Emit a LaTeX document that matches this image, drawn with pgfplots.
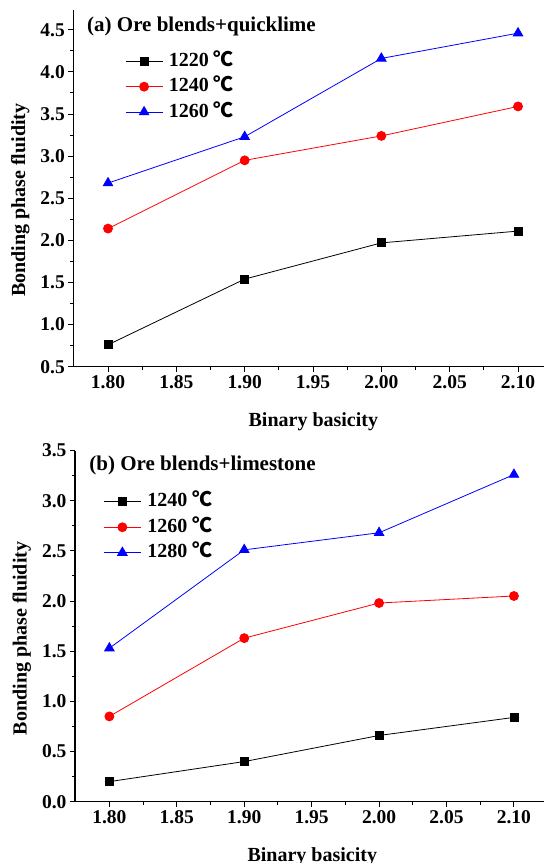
\documentclass[border=0pt]{standalone}
\usepackage{fontspec}
\setmainfont{Liberation Serif}
\newfontfamily\cjk{Noto Sans CJK SC}
\usepackage{pgfplots}
\pgfplotsset{compat=1.18}

\newcommand{\degC}{{\cjk\bfseries ℃}}

\pgfplotsset{
  panel/.style={
    scale only axis,
    axis lines=left, axis line style={-, line width=1.2pt},
    tick align=outside, major tick length=5pt, minor tick length=3pt,
    every tick/.style={black, line width=1pt},
    xtick={1.8,1.85,1.9,1.95,2.0,2.05,2.1},
    minor x tick num=1, minor y tick num=1,
    /pgf/number format/assume math mode=true,
    ticklabel style={font=\fontsize{19.5}{22}\selectfont\bfseries},
    xticklabel style={/pgf/number format/.cd, fixed, fixed zerofill, precision=2},
    yticklabel style={/pgf/number format/.cd, fixed, fixed zerofill, precision=1},
    label style={font=\fontsize{20}{24}\selectfont\bfseries},
    legend cell align=left,
    legend image code/.code={
      \draw[mark repeat=2, mark phase=2, #1] plot coordinates {(0pt,0pt) (18.5pt,0pt) (37pt,0pt)};
    },
    legend style={draw=none, fill=none, inner sep=0pt, anchor=north west,
      font=\fontsize{20}{24}\selectfont\bfseries,
      nodes={inner sep=0pt, text height=14pt, text depth=4pt},
      column sep=6pt, row sep=7.4pt},
    clip=false,
  },
  s1/.style={black, line width=0.8pt, mark=square*, mark size=4pt, mark options={solid}},
  s2/.style={red, line width=0.8pt, mark=*, mark size=4.5pt, mark options={solid}},
  s3/.style={blue, line width=0.8pt, mark=triangle*, mark size=5.5pt, mark options={solid}},
}

\begin{document}
\begin{tikzpicture}
\useasboundingbox (0,0) rectangle (544pt,863pt);

% (a) quicklime
\begin{axis}[panel,
    at={(73.3pt,496.3pt)}, anchor=south west,
    width=470.7pt, height=356.7pt,
    xmin=1.7746, xmax=2.119, ymin=0.5, ymax=4.735,
    ytick={0.5,1.0,1.5,2.0,2.5,3.0,3.5,4.0,4.5},
    xlabel={Binary basicity}, ylabel={Bonding phase fluidity},
    xlabel style={at={(axis description cs:0.51,-0.168)}, anchor=base},
    ylabel style={at={(axis description cs:-0.1126,0.467)}, anchor=center},
    legend style={at={(axis description cs:0.1098,0.882)}},
]
\addplot[s1] coordinates {(1.8,0.76) (1.9,1.54) (2.0,1.97) (2.1,2.11)};
\addplot[s2] coordinates {(1.8,2.14) (1.9,2.95) (2.0,3.24) (2.1,3.59)};
\addplot[s3] coordinates {(1.8,2.68) (1.9,3.23) (2.0,4.16) (2.1,4.46)};
\legend{1220 \degC, 1240 \degC, 1260 \degC}
\node[anchor=base west, inner sep=0pt, font=\fontsize{21}{24}\selectfont\bfseries]
  at ([xshift=13.7pt, yshift=-22pt]rel axis cs:0,1) {(a) Ore blends+quicklime};
\end{axis}

% (b) limestone
\begin{axis}[panel,
    at={(75pt,61.3pt)}, anchor=south west,
    width=469pt, height=351.2pt,
    xmin=1.7745, xmax=2.1223, ymin=0, ymax=3.5,
    ytick={0,0.5,1.0,1.5,2.0,2.5,3.0,3.5},
    xlabel={Binary basicity}, ylabel={Bonding phase fluidity},
    xlabel style={at={(axis description cs:0.506,-0.171)}, anchor=base},
    ylabel style={at={(axis description cs:-0.1137,0.465)}, anchor=center},
    legend style={at={(axis description cs:0.0603,0.880)}},
]
\addplot[s1] coordinates {(1.8,0.20) (1.9,0.40) (2.0,0.66) (2.1,0.84)};
\addplot[s2] coordinates {(1.8,0.85) (1.9,1.63) (2.0,1.98) (2.1,2.05)};
\addplot[s3] coordinates {(1.8,1.53) (1.9,2.51) (2.0,2.68) (2.1,3.26)};
\legend{1240 \degC, 1260 \degC, 1280 \degC}
\node[anchor=base west, inner sep=0pt, font=\fontsize{21}{24}\selectfont\bfseries]
  at ([xshift=14.3pt, yshift=-20.2pt]rel axis cs:0,1) {(b) Ore blends+limestone};
\end{axis}
\end{tikzpicture}
\end{document}
